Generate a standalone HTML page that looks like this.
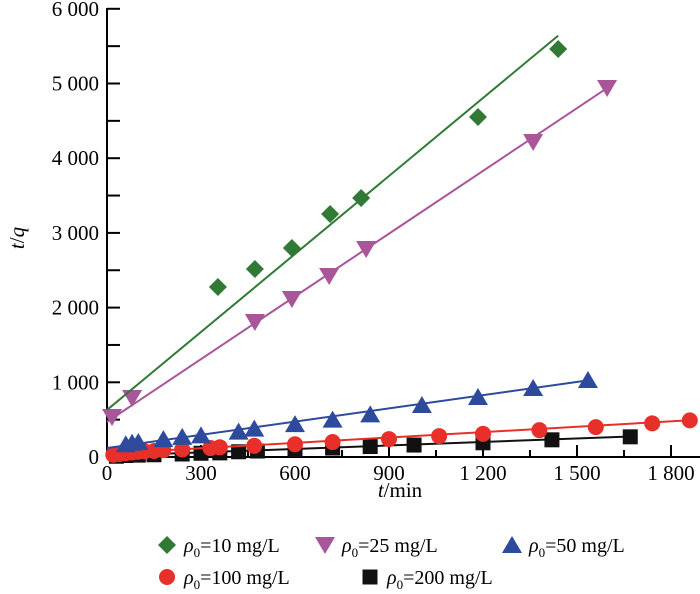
<!DOCTYPE html>
<html><head><meta charset="utf-8"><style>
html,body{margin:0;padding:0;background:#fff;}
svg, svg text, svg tspan{font-family:"Liberation Serif","Times New Roman",Times,serif;}
</style></head><body>
<svg id="chart" width="700" height="589" viewBox="0 0 700 589" xmlns="http://www.w3.org/2000/svg" font-family="Liberation Serif, Times New Roman, serif">
<g id="axes"></g>
<g id="series"></g>
<g id="legend"></g>
</svg>
<script>
const xTicks=[0,300,600,900,1200,1500,1800];
const xTickLabels=["0","300","600","900","1 200","1 500","1 800"];
const yTicks=[0,1000,2000,3000,4000,5000,6000];
const yTickLabels=["0","1 000","2 000","3 000","4 000","5 000","6 000"];
const t10=[354,472,590,712,811,1184,1440];
const q10=[2276,2517,2798,3253,3467,4552,5462];
const fit10=[630,3.48,0,1440];
const t25=[16,80,472,590,709,827,1360,1596];
const q25=[535,790,1807,2115,2423,2784,4217,4940];
const fit25=[470,2.8,0,1596];
const t50=[60,80,100,180,240,300,420,470,600,720,840,1005,1184,1360,1535];
const q50=[170,190,200,240,270,290,340,380,440,500,570,696,803,924,1031];
const fit50=[120,0.59,0,1535];
const t100=[20,40,60,80,100,120,150,180,240,330,360,470,600,720,900,1060,1200,1380,1560,1740,1860];
const q100=[30,40,50,60,70,75,80,90,100,120,130,150,170,200,240,280,310,360,400,450,490];
const fit100=[45,0.24,0,1860];
const t200=[30,60,100,150,240,300,360,420,480,600,720,840,980,1200,1420,1670];
const q200=[10,20,25,30,40,50,55,70,80,100,120,140,160,190,230,270];
const fit200=[15,0.155,0,1670];

const NS="http://www.w3.org/2000/svg";
const X0=107,XS=94/300,Y0=457,YS=74.7/1000;
const FF="Liberation Serif, Times New Roman, serif";
function sx(v){return X0+v*XS;}
function sy(v){return Y0-v*YS;}
function el(tag,attrs,parent){const e=document.createElementNS(NS,tag);for(const k in attrs)e.setAttribute(k,attrs[k]);if(tag==='text')e.setAttribute('font-family',FF);parent.appendChild(e);return e;}
const axes=document.getElementById('axes');
const ser=document.getElementById('series');
const leg=document.getElementById('legend');

let a=el('line',{x1:X0,y1:Y0,x2:700,y2:Y0,stroke:'#000','stroke-width':2},axes);

a=el('line',{x1:X0,y1:Y0,x2:X0,y2:8,stroke:'#000','stroke-width':2},axes);

xTicks.forEach((v,i)=>{
  const tk=el('line',{x1:sx(v),y1:Y0,x2:sx(v),y2:Y0-12,stroke:'#000','stroke-width':2},axes);
  
  if(i<xTicks.length-1){const m=el('line',{x1:sx(v+150),y1:Y0,x2:sx(v+150),y2:Y0-7,stroke:'#000','stroke-width':2},axes);
  }
  const tx=el('text',{x:sx(v),y:Y0+23,'font-size':21,'text-anchor':'middle'},axes);tx.textContent=xTickLabels[i];
  
});
yTicks.forEach((v,i)=>{
  const tk=el('line',{x1:X0,y1:sy(v),x2:X0+13,y2:sy(v),stroke:'#000','stroke-width':2},axes);
  
  if(i<yTicks.length-1){const m=el('line',{x1:X0,y1:sy(v+500),x2:X0+13,y2:sy(v+500),stroke:'#000','stroke-width':2},axes);
  }
  const tx=el('text',{x:X0-8,y:sy(v)+7,'font-size':21,'text-anchor':'end'},axes);tx.textContent=yTickLabels[i];
  
});
let tt=el('text',{x:400,y:497,'font-size':21,'text-anchor':'middle'},axes);
tt.innerHTML='<tspan font-style="italic">t</tspan>/min';

tt=el('text',{x:0,y:0,'font-size':21,'text-anchor':'middle',transform:'translate(24,238) rotate(-90)'},axes);
tt.innerHTML='<tspan font-style="italic">t</tspan>/<tspan font-style="italic">q</tspan>';


function marker(type,cx,cy,color,parent){
  let m;
  if(type==='diamond')m=el('polygon',{points:`${cx},${cy-9} ${cx+9},${cy} ${cx},${cy+9} ${cx-9},${cy}`,fill:color},parent);
  else if(type==='down')m=el('polygon',{points:`${cx-10},${cy-8} ${cx+10},${cy-8} ${cx},${cy+9}`,fill:color},parent);
  else if(type==='up')m=el('polygon',{points:`${cx-10},${cy+8} ${cx+10},${cy+8} ${cx},${cy-9}`,fill:color},parent);
  else if(type==='circle')m=el('circle',{cx:cx,cy:cy,r:8,fill:color},parent);
  else m=el('rect',{x:cx-7.5,y:cy-7.5,width:15,height:15,fill:color},parent);
  return m;
}
const sets=[
 {t:t200,q:q200,f:fit200,c:'#111111',m:'square',n:'200'},
 {t:t100,q:q100,f:fit100,c:'#e8302a',m:'circle',n:'100'},
 {t:t50,q:q50,f:fit50,c:'#2e4a9c',m:'up',n:'50'},
 {t:t25,q:q25,f:fit25,c:'#a8559a',m:'down',n:'25'},
 {t:t10,q:q10,f:fit10,c:'#317a35',m:'diamond',n:'10'}
];
sets.forEach(s=>{
  const g=el('g',{},ser);
  
  const ln=el('line',{x1:sx(s.f[2]),y1:sy(s.f[0]+s.f[1]*s.f[2]),x2:sx(s.f[3]),y2:sy(s.f[0]+s.f[1]*s.f[3]),stroke:s.c,'stroke-width':2},g);
  
  s.t.forEach((t,i)=>{const m=marker(s.m,sx(t),sy(s.q[i]),s.c,g);
    });
});
const legendItems=[
 {x:167,y:545,c:'#317a35',m:'diamond',v:'10'},
 {x:325,y:545,c:'#a8559a',m:'down',v:'25'},
 {x:512,y:545,c:'#2e4a9c',m:'up',v:'50'},
 {x:167,y:577,c:'#e8302a',m:'circle',v:'100'},
 {x:370,y:577,c:'#111111',m:'square',v:'200'}
];
legendItems.forEach(li=>{
  const g=el('g',{},leg);
  
  marker(li.m,li.x,li.y,li.c,g);
  const tx=el('text',{x:li.x+17,y:li.y+7,'font-size':20},g);
  tx.innerHTML='<tspan font-style="italic">ρ</tspan><tspan font-size="13" dy="5">0</tspan><tspan dy="-5">='+li.v+' mg/L</tspan>';
});
</script>
</body></html>
